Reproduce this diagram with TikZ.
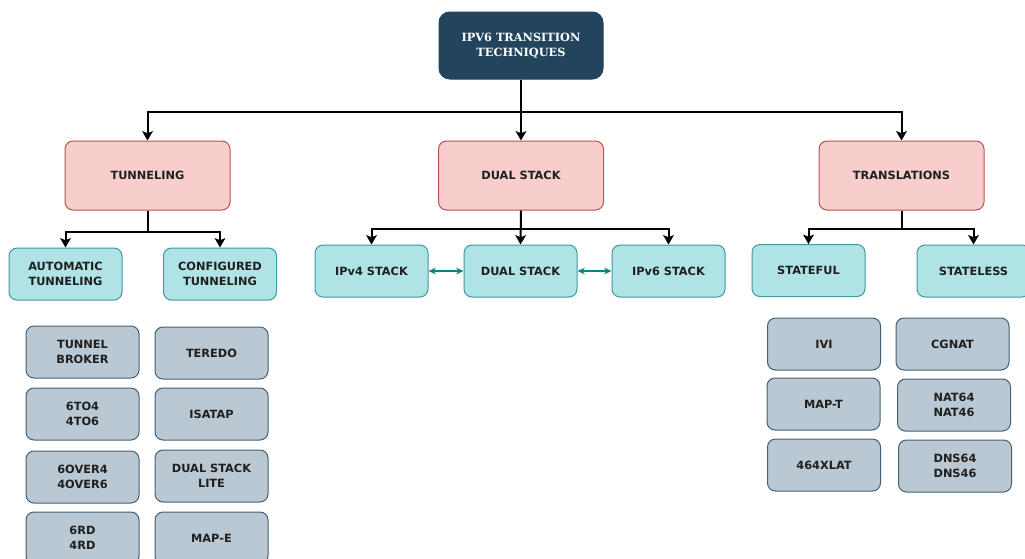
\documentclass[tikz,border=0pt]{standalone}
\usepackage{fontspec}
\setmainfont{DejaVu Sans}
\newfontfamily\rootfont{DejaVu Serif}
\usetikzlibrary{arrows.meta}
\definecolor{navy}{HTML}{23445D}
\definecolor{rosefill}{HTML}{F8CECC}
\definecolor{roseline}{HTML}{B85450}
\definecolor{tealfill}{HTML}{B0E3E6}
\definecolor{tealline}{HTML}{0E8088}
\definecolor{greyfill}{HTML}{BAC8D3}
\tikzset{
  base/.style={rounded corners=6pt, inner sep=0pt, align=center, line width=0.75pt,
    font=\fontsize{8.5}{11.25}\selectfont\bfseries, text=black!88},
  rootbox/.style={base, fill=navy, draw=navy, minimum width=123pt, minimum height=50.25pt,
    rounded corners=8pt, text=white, font=\rootfont\fontsize{8.5}{11.25}\selectfont\bfseries},
  groupbox/.style={base, fill=rosefill, draw=roseline, minimum width=123.75pt, minimum height=51.75pt},
  kindbox/.style={base, fill=tealfill, draw=tealline!80, minimum width=84.75pt, minimum height=39pt},
  itembox/.style={base, fill=greyfill, draw=navy!85, minimum width=84.75pt, minimum height=39pt},
  arr/.style={line width=1.5pt, -{Stealth[length=7pt,width=8pt,inset=1.5pt]}},
  link/.style={draw=tealline, line width=0.8pt, {Stealth[length=5.5pt,width=5pt]}-{Stealth[length=5.5pt,width=5pt]}}
}
\begin{document}
\begin{tikzpicture}[x=0.75pt, y=-0.75pt]
\clip (0,0) rectangle (1025,558);
\fill[white] (0,0) rectangle (1025,558);

% top level
\node[rootbox] (root) at (521,45.5) {IPV6 TRANSITION\\TECHNIQUES};

% technique families
\node[groupbox] (tun)   at (147.5,175.5) {TUNNELING};
\node[groupbox] (dual)  at (521,175.5)   {DUAL STACK};
\node[groupbox] (trans) at (901.5,175.5) {TRANSLATIONS};

% sub-categories
\node[kindbox] (auto)  at (65.5,274)  {AUTOMATIC\\TUNNELING};
\node[kindbox] (conf)  at (220,274)   {CONFIGURED\\TUNNELING};
\node[kindbox] (ipv4)  at (371.5,271) {IPv4 STACK};
\node[kindbox] (ds)    at (520.5,271) {DUAL STACK};
\node[kindbox] (ipv6)  at (668.5,271) {IPv6 STACK};
\node[kindbox] (sful)  at (808.5,270.5) {STATEFUL};
\node[kindbox] (sless) at (973.5,271) {STATELESS};

% tunneling mechanisms
\node[itembox] (broker) at (82.5,352)  {TUNNEL\\BROKER};
\node[itembox] (sixto)  at (82.5,414)  {6TO4\\4TO6};
\node[itembox] (over)   at (82.5,477)  {6OVER4\\4OVER6};
\node[itembox] (rd)     at (82.5,538)  {6RD\\4RD};
\node[itembox] (teredo) at (211.5,353) {TEREDO};
\node[itembox] (isatap) at (211.5,414) {ISATAP};
\node[itembox] (dslite) at (211.5,476) {DUAL STACK\\LITE};
\node[itembox] (mape)   at (211.5,538) {MAP-E};

% translation mechanisms
\node[itembox] (ivi)    at (824,344)   {IVI};
\node[itembox] (maptr)  at (823.5,404) {MAP-T};
\node[itembox] (xlat)   at (824,465)   {464XLAT};
\node[itembox] (cgnat)  at (952.5,344) {CGNAT};
\node[itembox] (nat)    at (954,405)   {NAT64\\NAT46};
\node[itembox] (dns)    at (955,466)   {DNS64\\DNS46};

% tree connectors
\draw[arr] (root.south) -- ++(0,32) -| (tun.north);
\draw[arr] (root.south) -- (dual.north);
\draw[arr] (root.south) -- ++(0,32) -| (trans.north);

\draw[arr] (tun.south) -- ++(0,21) -| (auto.north);
\draw[arr] (tun.south) -- ++(0,21) -| (conf.north);

\draw[arr] (dual.south) -- ++(0,18) -| (ipv4.north);
\draw[arr] (dual.south) -- (ds.north);
\draw[arr] (dual.south) -- ++(0,18) -| (ipv6.north);

\draw[arr] (trans.south) -- ++(0,18) -| (sful.north);
\draw[arr] (trans.south) -- ++(0,18) -| (sless.north);

% interworking between stacks
\draw[link] (ipv4.east) -- (ds.west);
\draw[link] (ds.east) -- (ipv6.west);
\end{tikzpicture}
\end{document}
